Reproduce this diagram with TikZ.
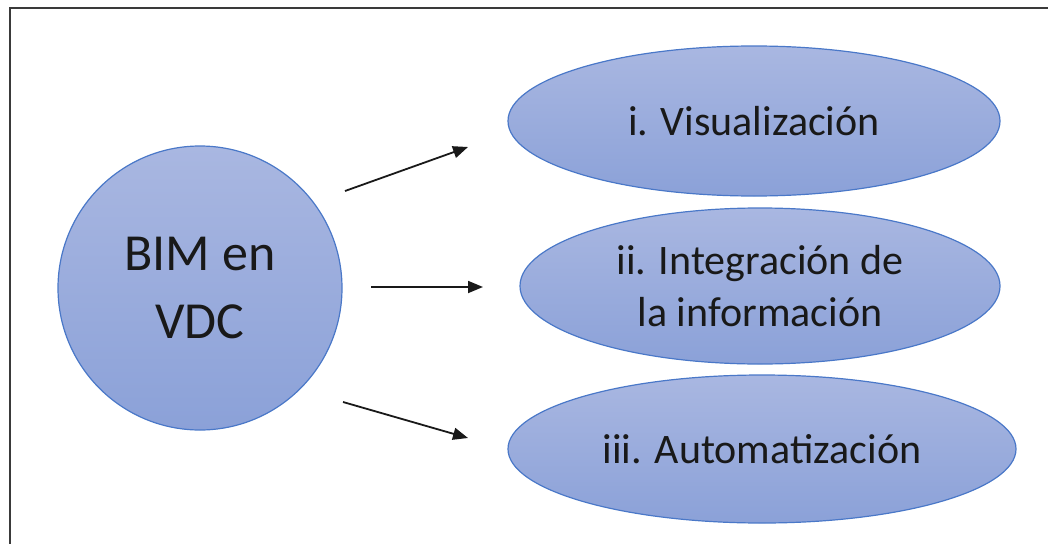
\documentclass[tikz,border=0pt]{standalone}
\usepackage{fontspec}
\setmainfont{Carlito}
\usetikzlibrary{shapes.geometric,arrows.meta}
\definecolor{shapetop}{HTML}{A9B7E1}
\definecolor{shapebottom}{HTML}{8BA1D8}
\definecolor{shapeline}{HTML}{4A78C8}
\definecolor{framegray}{HTML}{3A3A3A}
\tikzset{
  bubble/.style={shape=ellipse, draw=shapeline, line width=1.2pt,
    top color=shapetop, bottom color=shapebottom, inner sep=0pt,
    align=center, text=black!90},
  topic/.style={bubble, font=\fontsize{42}{51.6}\selectfont},
  hub/.style={bubble, shape=circle, minimum size=284pt,
    font=\fontsize{52}{68}\selectfont},
  link/.style={line width=1.8pt, black!90,
    -{Triangle[length=15pt,width=12pt]}},
}
\begin{document}
\begin{tikzpicture}[x=1pt,y=-1pt]
  \useasboundingbox (0,0) rectangle (1048,543);
  % outer frame (its right and bottom sides lie off the page)
  \draw[framegray, line width=2pt] (9.5,560) -- (9.5,8) -- (1060,8);

  % central circle
  \node[hub] (bim) at (200,288) {BIM en\\VDC};

  % three topics
  \node[topic, minimum width=492pt, minimum height=150pt] (vis) at (754,121) {i. Visualización};
  \node[topic, minimum width=480pt, minimum height=156pt] (int) at (760,286) {ii. Integración de\\la información};
  \node[topic, minimum width=508pt, minimum height=148pt] (aut) at (762,449) {iii. Automatización};

  % arrow ends
  \coordinate (s1) at (345,191);
  \coordinate (e1) at (468,147);
  \coordinate (s2) at (371,287);
  \coordinate (e2) at (483,287);
  \coordinate (s3) at (343,402);
  \coordinate (e3) at (468,438);

  \draw[link] (s1) -- (e1);
  \draw[link] (s2) -- (e2);
  \draw[link] (s3) -- (e3);
\end{tikzpicture}
\end{document}
